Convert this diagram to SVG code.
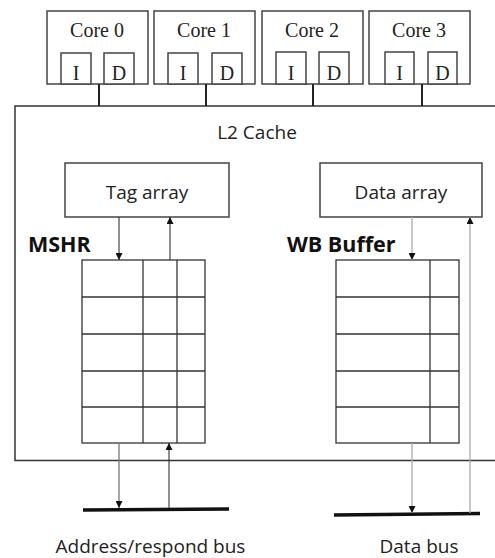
<svg xmlns="http://www.w3.org/2000/svg" width="495" height="558" viewBox="0 0 495 558">
<style>
.box{fill:#fff;stroke:#444;stroke-width:1.5}
.cell{fill:none;stroke:#333;stroke-width:1.3}
.serif{font-family:"Liberation Serif",serif;font-size:20px;fill:#222;text-anchor:middle}
.sans{font-family:"Open Sans","Liberation Sans",sans-serif;font-size:19px;fill:#222;text-anchor:middle}
.bold{font-family:"Open Sans","Liberation Sans",sans-serif;font-size:21.5px;font-weight:bold;fill:#111}
.wire{stroke:#333;stroke-width:1.1;fill:none}
.grey{stroke:#aaa;stroke-width:1.3;fill:none}
.bus{stroke:#111;stroke-width:3.5}
</style>
<defs>
<marker id="ah" viewBox="0 0 10 10" refX="10" refY="5" markerWidth="7" markerHeight="7" markerUnits="userSpaceOnUse" orient="auto"><path d="M0,0 L10,5 L0,10 z" fill="#111"/></marker>
</defs>
<rect width="495" height="558" fill="#fff"/>
<g id="l2">
<path d="M495,106 H15 V460.5 H495" fill="none" stroke="#333" stroke-width="1.5"/>
<text class="sans" x="257" y="139">L2 Cache</text>
</g>
<g id="core0">
<rect class="box" x="47" y="11" width="101" height="73"/>
<text class="serif" x="97" y="37">Core 0</text>
<rect class="box" x="61" y="53" width="30" height="31"/><text class="serif" x="76" y="80">I</text>
<rect class="box" x="104" y="53" width="30" height="31"/><text class="serif" x="119" y="80">D</text>
</g>
<g id="core1">
<rect class="box" x="154" y="11" width="101" height="73"/>
<text class="serif" x="204" y="37">Core 1</text>
<rect class="box" x="168" y="53" width="30" height="31"/><text class="serif" x="183" y="80">I</text>
<rect class="box" x="212" y="53" width="30" height="31"/><text class="serif" x="227" y="80">D</text>
</g>
<g id="core2">
<rect class="box" x="262" y="11" width="101" height="73"/>
<text class="serif" x="312" y="37">Core 2</text>
<rect class="box" x="276" y="52" width="30" height="32"/><text class="serif" x="291" y="80">I</text>
<rect class="box" x="319" y="52" width="30" height="32"/><text class="serif" x="334" y="80">D</text>
</g>
<g id="core3">
<rect class="box" x="369" y="11" width="101" height="73"/>
<text class="serif" x="419" y="37">Core 3</text>
<rect class="box" x="385" y="52" width="29" height="32"/><text class="serif" x="399.5" y="80">I</text>
<rect class="box" x="428" y="52" width="29" height="32"/><text class="serif" x="442.5" y="80">D</text>
</g>
<g id="tag-array">
<rect class="box" x="65" y="163" width="164" height="54"/>
<text class="sans" x="147" y="199">Tag array</text>
</g>
<g id="data-array">
<rect class="box" x="320" y="163" width="162" height="54"/>
<text class="sans" x="401" y="199">Data array</text>
</g>
<g id="mshr">
<text class="bold" x="28" y="252">MSHR</text>
<rect class="cell" x="82" y="260" width="123" height="183"/>
<path class="cell" d="M143,260V443M177,260V443M82,297H205M82,334H205M82,371H205M82,407H205"/>
</g>
<g id="wb-buffer">
<text class="bold" x="287" y="252">WB Buffer</text>
<rect class="cell" x="336" y="260" width="123" height="183"/>
<path class="cell" d="M430,260V443M336,297H459M336,334H459M336,371H459M336,407H459"/>
</g>
<g id="address-bus">
<line class="bus" x1="83" y1="510" x2="229" y2="509"/>
<text class="sans" x="150.5" y="553">Address/respond bus</text>
</g>
<g id="data-bus">
<line class="bus" x1="334" y1="515" x2="480" y2="513.5"/>
<text class="sans" x="419" y="553">Data bus</text>
</g>
<g id="connectors">
<path d="M99,84V106M206,84V106M313,84V106M422,84V106" stroke="#222" stroke-width="2"/>
<line class="wire" x1="119" y1="217" x2="119" y2="260" marker-end="url(#ah)"/>
<line class="wire" x1="170" y1="260" x2="170" y2="217" marker-end="url(#ah)"/>
<line class="grey" x1="412" y1="217" x2="412" y2="260" marker-end="url(#ah)"/>
<line class="grey" x1="470" y1="513" x2="470" y2="217" marker-end="url(#ah)"/>
<line class="grey" x1="119" y1="443" x2="119" y2="508" marker-end="url(#ah)" style="stroke:#777"/>
<line class="wire" x1="169" y1="508" x2="169" y2="443" marker-end="url(#ah)"/>
<line class="grey" x1="412" y1="443" x2="412" y2="513" marker-end="url(#ah)"/>
</g>
</svg>
